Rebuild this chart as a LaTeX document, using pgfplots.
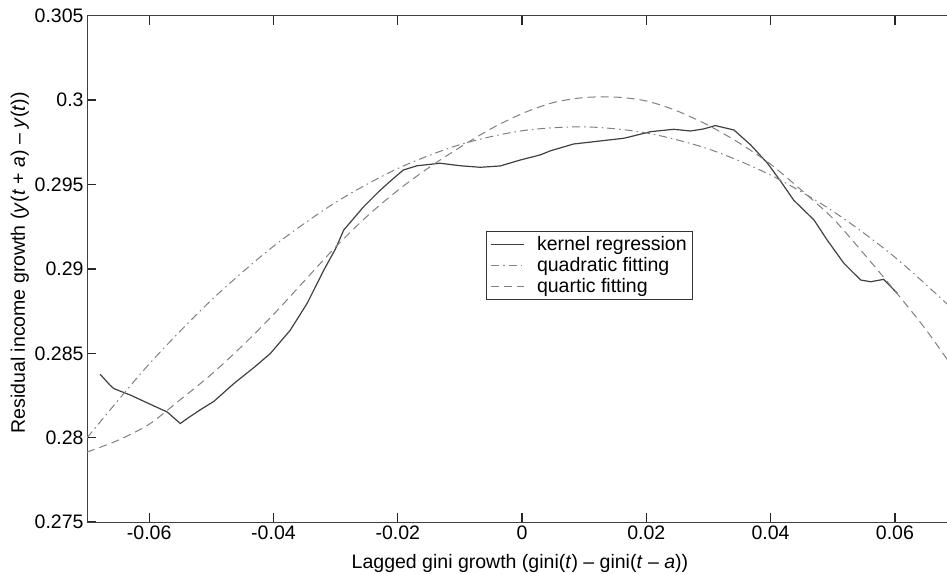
\documentclass[border=0pt]{standalone}
\usepackage{fontspec}
\setmainfont{Liberation Sans}
\usepackage{pgfplots}
\pgfplotsset{compat=1.18}
\newcommand{\fs}{\fontsize{19.5bp}{23bp}\selectfont}
\tikzset{xtk/.style={draw=black!85, line width=1.4bp}}
\begin{document}
\begin{tikzpicture}
\begin{axis}[
  scale only axis,
  width=860bp, height=506bp,
  xmin=-0.07, xmax=0.0685,
  ymin=0.275, ymax=0.305,
  xtick pos=both, ytick pos=left,
  axis line style={draw=black!75, line width=1.1bp},
  tick align=inside,
  major tick length=9bp,
  xtick style={draw=none},
  ytick style={draw=black!85, line width=1.4bp},
  xtick={-0.06,-0.04,-0.02,0,0.02,0.04,0.06},
  ytick={0.275,0.28,0.285,0.29,0.295,0.3,0.305},
  scaled ticks=false,
  /pgf/number format/assume math mode=true,
  /pgf/number format/fixed,
  /pgf/number format/precision=3,
  ticklabel style={font=\fs},
  label style={font=\fs},
  xlabel={Lagged gini growth (gini(\textit{t}) – gini(\textit{t} – \textit{a}))},
  ylabel={Residual income growth (\textit{y}(\textit{t} + \textit{a}) – \textit{y}(\textit{t}))},
  xlabel style={at={(axis description cs:0.503,-0.081)},anchor=center},
  ylabel style={at={(axis description cs:-0.078,0.512)},anchor=center},
  legend style={at={(axis description cs:0.464,0.5745)}, anchor=north west,
    draw=black!80, line width=0.8bp, fill=white, font=\fs,
    inner xsep=4bp, inner ysep=3bp, row sep=1.5bp},
  legend cell align=left,
  legend image code/.code={\draw[#1] (10bp,0bp) -- (43bp,0bp); \path (53bp,0bp);},
]
% kernel regression
\addplot[draw=black!75, line width=1.2bp] coordinates {
(-0.0679,0.28376) (-0.0663,0.28311) (-0.0657,0.28291) (-0.0630,0.28252)
(-0.0603,0.28206) (-0.0571,0.28152) (-0.0550,0.28084) (-0.0539,0.28113)
(-0.0518,0.28165) (-0.0496,0.28215) (-0.0464,0.28320) (-0.0430,0.28420)
(-0.0405,0.28499) (-0.0373,0.28637) (-0.0346,0.28795) (-0.0319,0.28993)
(-0.0300,0.29120) (-0.0287,0.29230) (-0.0255,0.29368) (-0.0230,0.29460)
(-0.0212,0.29520) (-0.0191,0.29586) (-0.0169,0.29611) (-0.0132,0.29626)
(-0.0099,0.29611) (-0.0067,0.29602) (-0.0035,0.29610) (-0.0003,0.29645)
(0.0029,0.29675) (0.0046,0.29700) (0.0083,0.29740) (0.0164,0.29774)
(0.0207,0.29813) (0.0244,0.29827) (0.0271,0.29817) (0.0292,0.29829)
(0.0311,0.29849) (0.0341,0.29823) (0.0368,0.29734) (0.0395,0.29626)
(0.0416,0.29520) (0.0437,0.29408) (0.0470,0.29289) (0.0491,0.29171)
(0.0518,0.29033) (0.0545,0.28934) (0.0561,0.28924) (0.0582,0.28938)
(0.0604,0.28855)
};
\addlegendentry{kernel regression}
% quadratic fitting
\addplot[draw=black!50, line width=1bp, smooth,
  dash pattern=on 8bp off 4bp on 1.5bp off 4bp] coordinates {
(-0.07,0.279993) (-0.06,0.284367) (-0.05,0.288150) (-0.04,0.291341)
(-0.03,0.293940) (-0.02,0.295947) (-0.01,0.297362) (0,0.298185)
(0.01,0.298417) (0.02,0.298056) (0.03,0.297104) (0.04,0.295560)
(0.05,0.293424) (0.06,0.290696) (0.07,0.287376)
};
\addlegendentry{quadratic fitting}
% quartic fitting
\addplot[draw=black!50, line width=1bp, smooth,
  dash pattern=on 8bp off 5bp] coordinates {
(-0.070,0.27915) (-0.065,0.27985) (-0.060,0.28080) (-0.055,0.28225)
(-0.050,0.28375) (-0.045,0.28545) (-0.040,0.28730) (-0.035,0.28930)
(-0.030,0.29130) (-0.025,0.29310) (-0.020,0.29465) (-0.015,0.29600)
(-0.010,0.29720) (-0.005,0.29830) (0.000,0.29920) (0.005,0.29985)
(0.010,0.30015) (0.015,0.30018) (0.020,0.29995) (0.025,0.29935)
(0.030,0.29850) (0.035,0.29745) (0.040,0.29620) (0.045,0.29465)
(0.050,0.29300) (0.055,0.29090) (0.060,0.28870) (0.065,0.28640)
(0.070,0.28380)
};
\addlegendentry{quartic fitting}
% positions of the x-axis tick marks, bottom (b) and top (t)
\coordinate (b1) at (axis description cs:0.07220,0);
\coordinate (b2) at (axis description cs:0.21660,0);
\coordinate (b3) at (axis description cs:0.36101,0);
\coordinate (b4) at (axis description cs:0.50542,0);
\coordinate (b5) at (axis description cs:0.64982,0);
\coordinate (b6) at (axis description cs:0.79422,0);
\coordinate (b7) at (axis description cs:0.93863,0);
\coordinate (t1) at (axis description cs:0.07220,1);
\coordinate (t2) at (axis description cs:0.21660,1);
\coordinate (t3) at (axis description cs:0.36101,1);
\coordinate (t4) at (axis description cs:0.50542,1);
\coordinate (t5) at (axis description cs:0.64982,1);
\coordinate (t6) at (axis description cs:0.79422,1);
\coordinate (t7) at (axis description cs:0.93863,1);
\end{axis}
\foreach \i in {1,...,7} {
  \draw[xtk] (b\i) -- ++(0bp,9bp);
  \draw[xtk] (t\i) -- ++(0bp,-9bp);
}
\pgfresetboundingbox
\path (current axis.south west) ++(-87bp,-51.3bp) coordinate (bbsw);
\path ([shift={(-0.7bp,15.7bp)}]current axis.north east) coordinate (bbne);
\path (bbsw) rectangle (bbne);
\end{tikzpicture}
\end{document}
